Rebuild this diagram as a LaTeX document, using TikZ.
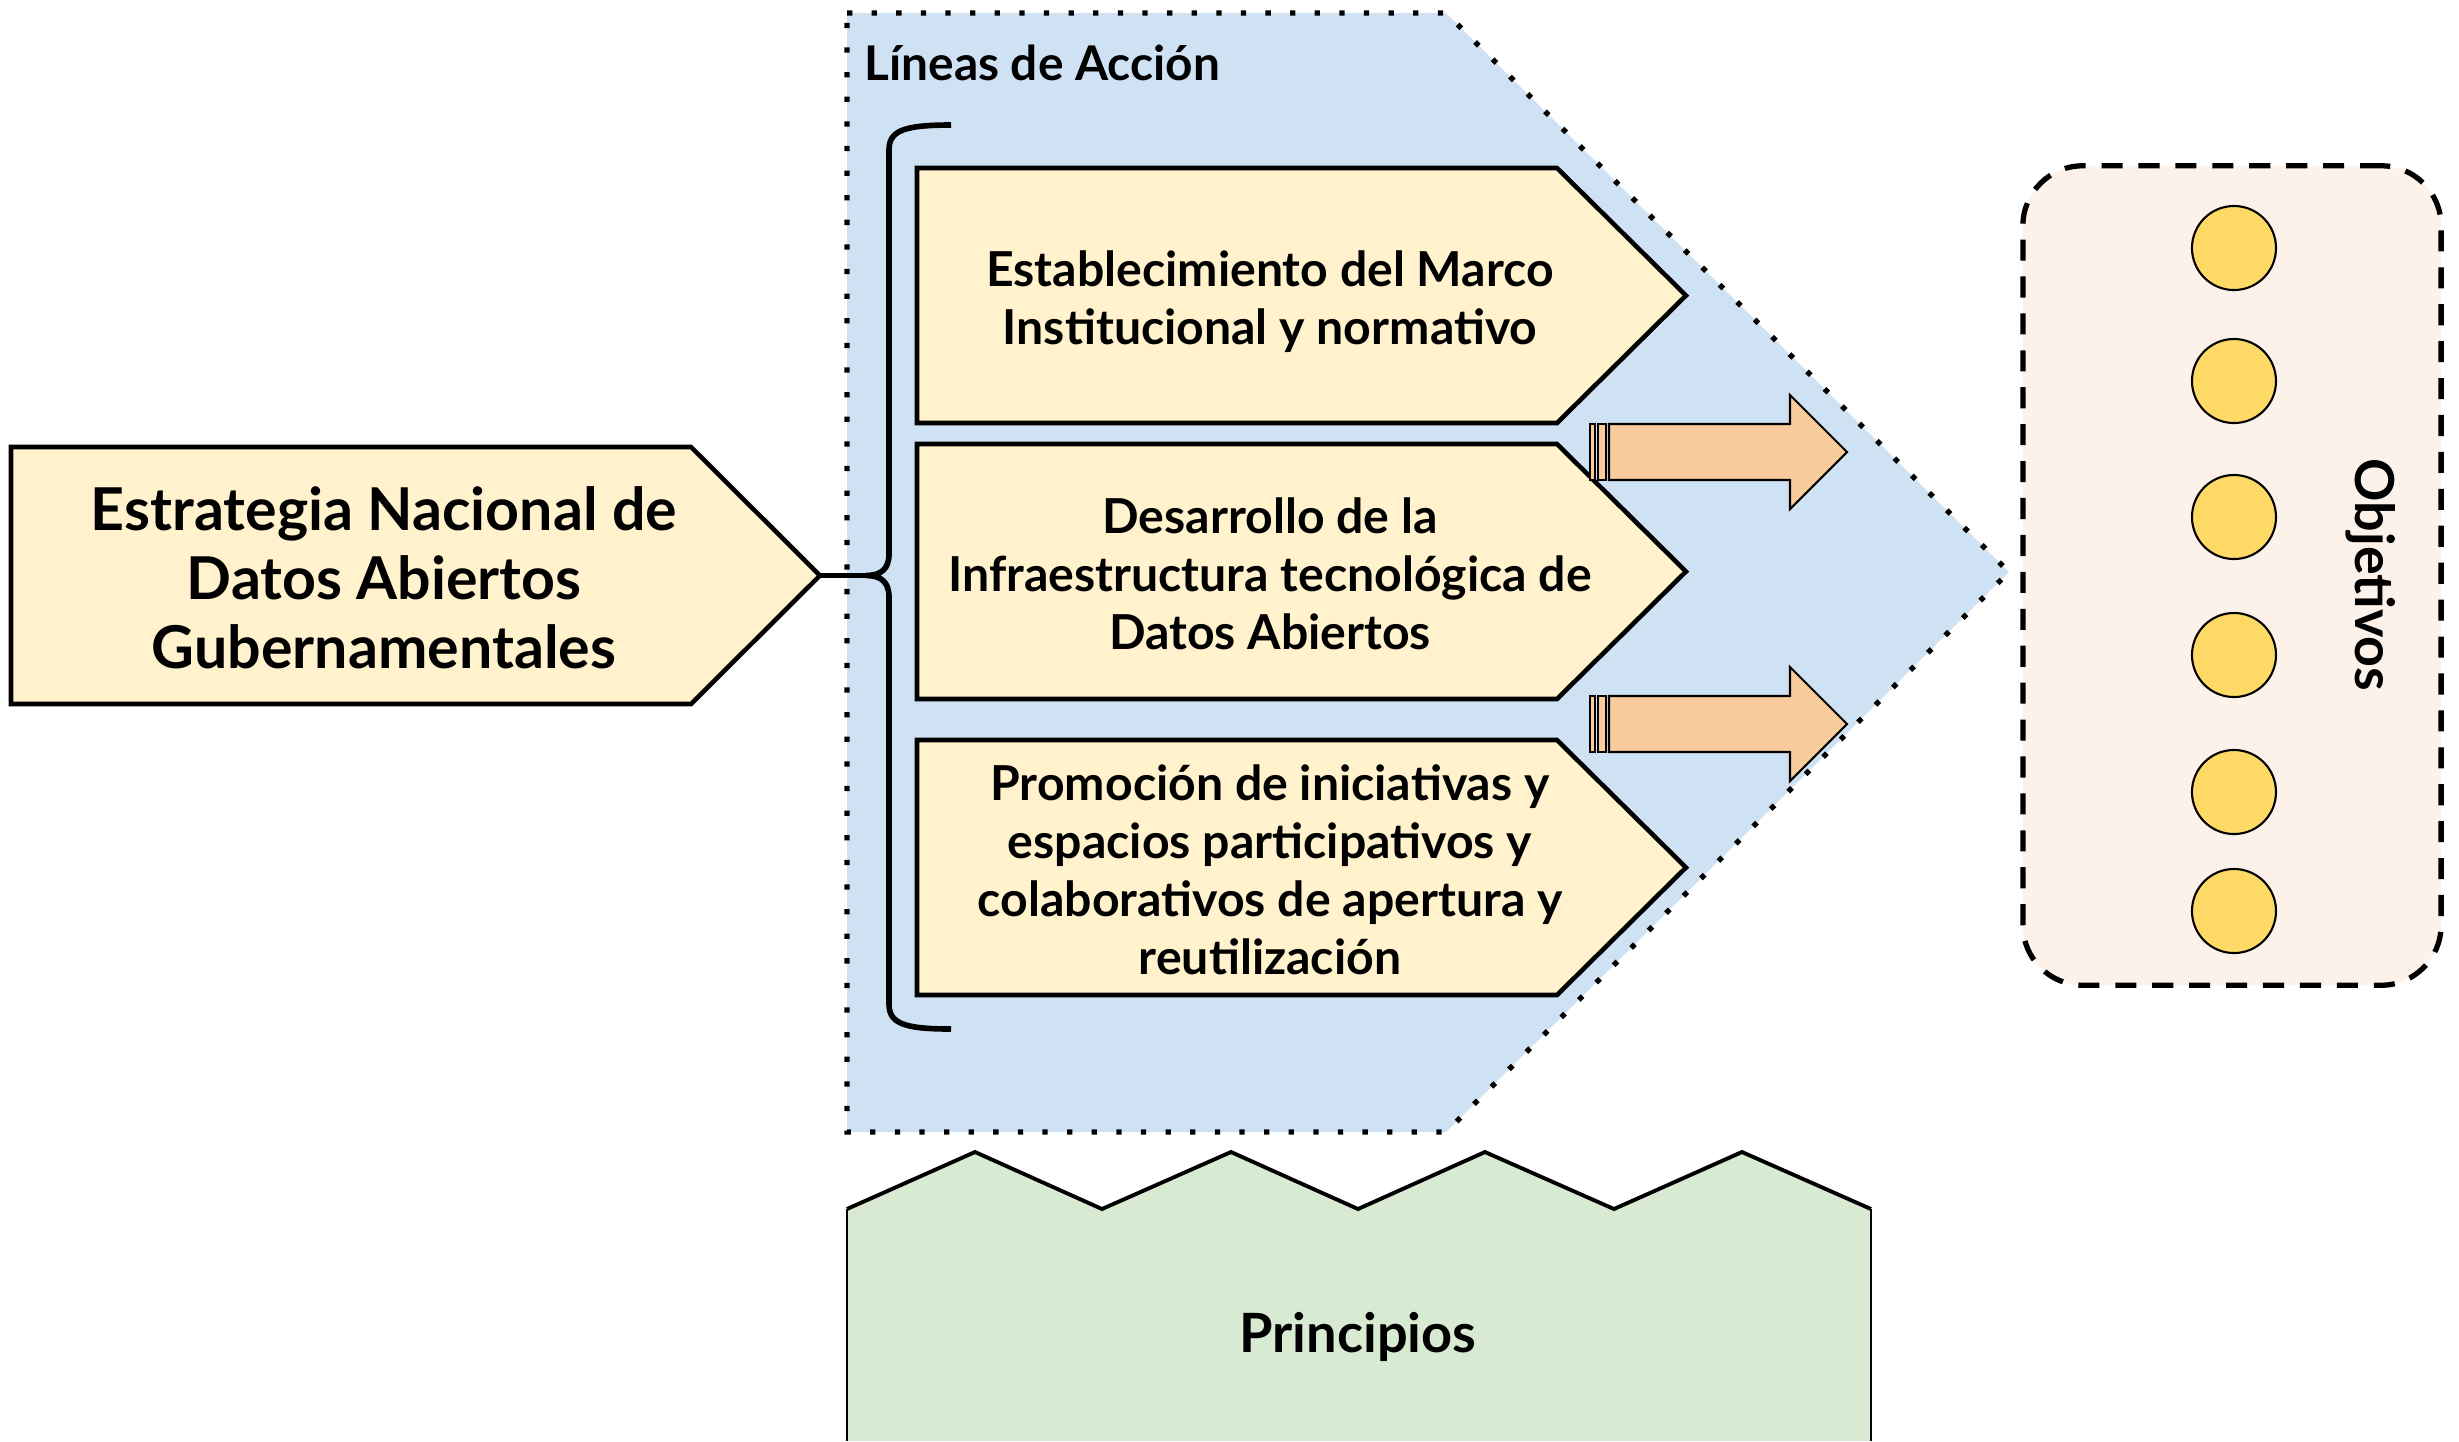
\documentclass[tikz,border=0pt]{standalone}
\usepackage{fontspec}
\setmainfont{Lato}
\usetikzlibrary{positioning,calc}

\definecolor{fondoazul}{HTML}{CFE2F3}
\definecolor{cajaamarilla}{HTML}{FFF2CC}
\definecolor{flechanaranja}{HTML}{F9CB9C}
\definecolor{fondoobj}{HTML}{FCF2E9}
\definecolor{puntoobj}{HTML}{FFD966}
\definecolor{verdeprin}{HTML}{D9EAD3}

\tikzset{
  caja/.style={draw, line width=1.3pt, fill=cajaamarilla},
  texto/.style={font=\bfseries\fontsize{13.7}{16.5}\selectfont, align=center},
  flecha/.style={draw, line width=0.6pt, fill=flechanaranja},
  punto/.style={circle, draw, line width=0.6pt, fill=puntoobj, minimum size=0.84cm, inner sep=0pt},
  puntos/.style={line width=1.5pt, dash pattern=on 1.5pt off 5.5pt},
}

\begin{document}
\begin{tikzpicture}[x=0.01cm, y=-0.01cm]
  \useasboundingbox (0,0) rectangle (2459,1441);

  % lineas de accion (fondo)
  \draw[puntos, fill=fondoazul] (847,13) -- (1446,13) -- (2009,572) -- (1446,1132) -- (847,1132) -- cycle;
  \node[font=\bfseries\fontsize{13.6}{16}\selectfont, anchor=west] (lineas) at (852,63) {Líneas de Acción};

  % estrategia
  \draw[caja] (11,447) -- (691,447) -- (820,575.5) -- (691,704) -- (11,704) -- cycle;
  \node[texto, font=\bfseries\fontsize{16.8}{19.6}\selectfont] (estrategia) at (384,578)
    {Estrategia Nacional de\\Datos Abiertos\\Gubernamentales};
  \coordinate (puntaE) at (820,575.5);
  \coordinate (llave) at (866,575.5);
  \draw[line width=1.4pt] (puntaE) -- (llave);
  \draw[line width=1.6pt] (951,125) .. controls (903,125) and (889,131) .. (889,150)
    -- (889,554) .. controls (889,569) and (881,575.5) .. (llave)
    .. controls (881,575.5) and (889,582) .. (889,597)
    -- (889,1004) .. controls (889,1023) and (903,1029) .. (951,1029);

  % lineas
  \foreach \y in {168,444,740}
    \draw[caja] (917,\y) -- (1557,\y) -- (1686,\y+127.5) -- (1557,\y+255) -- (917,\y+255) -- cycle;
  \node[texto] (marco) at (1270,302) {Establecimiento del Marco\\Institucional y normativo};
  \node[texto] (infra) at (1270,574) {Desarrollo de la\\Infraestructura tecnológica de\\Datos Abiertos};
  \node[texto] (promo) at (1270,870) {Promoción de iniciativas y\\espacios participativos y\\colaborativos de apertura y\\reutilización};

  % flechas
  \foreach \y in {452,724}{
    \draw[flecha] (1590,\y-28) rectangle (1595,\y+28);
    \draw[flecha] (1598,\y-28) rectangle (1606,\y+28);
    \draw[flecha] (1609,\y-28) -- (1790,\y-28) -- (1790,\y-57) -- (1847,\y)
      -- (1790,\y+57) -- (1790,\y+28) -- (1609,\y+28) -- cycle;
  }

  % objetivos
  \node[draw, line width=1.5pt, dash pattern=on 6pt off 4.5pt, rounded corners=0.6cm, fill=fondoobj,
    minimum width=4.18cm, minimum height=8.19cm] (objetivos) at (2232,575.5) {};
  \foreach \y [count=\i] in {248,381,517,655,792,911}
    \node[punto] (obj\i) at (2234,\y) {};
  \node[font=\bfseries\fontsize{15.3}{18}\selectfont, rotate=-90] (objtit) at (2371,575) {Objetivos};

  % principios
  \fill[verdeprin] (847,1209) -- (975,1152) -- (1102,1209) -- (1231,1152) -- (1358,1209)
    -- (1485,1152) -- (1614,1209) -- (1742,1152) -- (1871,1209) -- (1871,1441) -- (847,1441) -- cycle;
  \draw[line width=1.1pt] (847,1209) -- (975,1152) -- (1102,1209) -- (1231,1152) -- (1358,1209)
    -- (1485,1152) -- (1614,1209) -- (1742,1152) -- (1871,1209);
  \draw[line width=0.5pt] (847,1209) -- (847,1441) (1871,1209) -- (1871,1441);
  \node[font=\bfseries\fontsize{15.4}{18}\selectfont] (principios) at (1358,1337) {Principios};
\end{tikzpicture}
\end{document}
